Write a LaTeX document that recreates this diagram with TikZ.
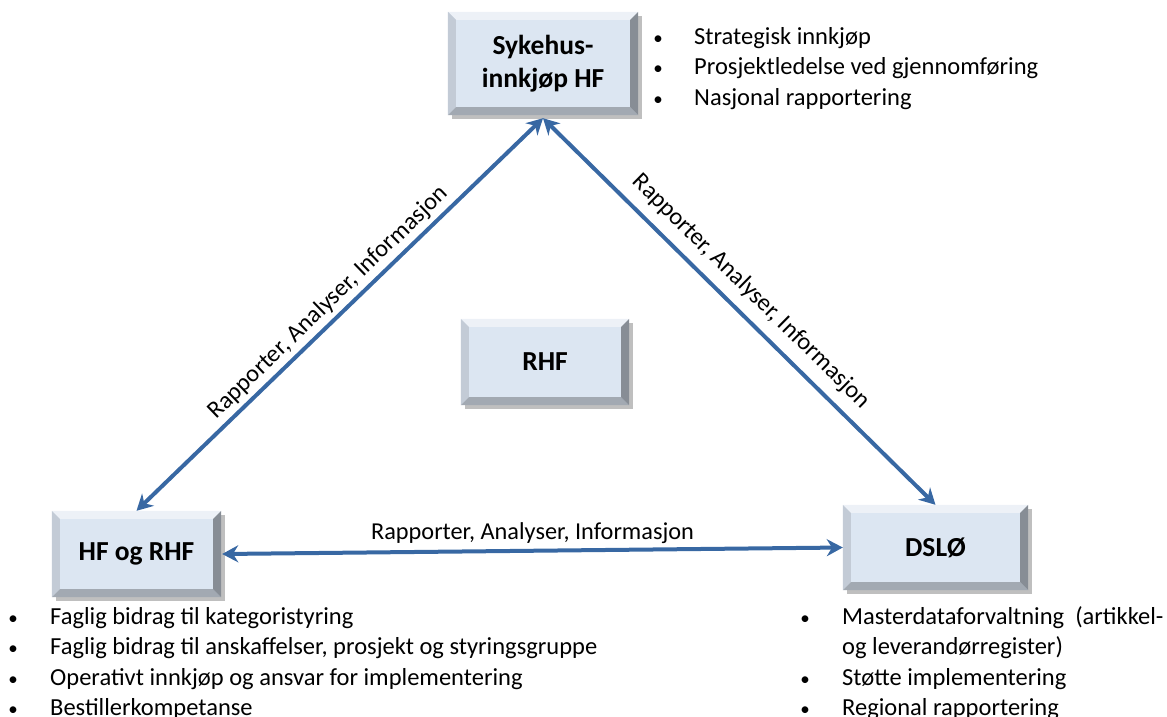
\documentclass[tikz,border=0pt]{standalone}
\usepackage{fontspec}
\setmainfont{Carlito}
\usetikzlibrary{arrows.meta,shadows,calc}
\definecolor{face}{HTML}{DCE6F2}
\definecolor{bevT}{HTML}{EDF1F7}
\definecolor{bevL}{HTML}{C3CBD6}
\definecolor{bevB}{HTML}{A2A9B2}
\definecolor{bevR}{HTML}{878D95}
\definecolor{arrowblue}{HTML}{3868A3}
\newcommand\boxfont{\fontsize{27.5}{33}\selectfont\bfseries}
\newcommand\listfont{\fontsize{24.5}{30}\selectfont}
\newcommand\bulfont{\fontsize{19}{30}\selectfont}
\newcommand\lblfont{\fontsize{24.3}{28}\selectfont}
\def\bw{8pt}
\newcommand\bevelbox[1]{%
  \fill[bevT] (#1.north west) -- (#1.north east) -- ([xshift=-\bw,yshift=-\bw]#1.north east) -- ([xshift=\bw,yshift=-\bw]#1.north west) -- cycle;
  \fill[bevL] (#1.north west) -- ([xshift=\bw,yshift=-\bw]#1.north west) -- ([xshift=\bw,yshift=\bw]#1.south west) -- (#1.south west) -- cycle;
  \fill[bevB] (#1.south west) -- ([xshift=\bw,yshift=\bw]#1.south west) -- ([xshift=-\bw,yshift=\bw]#1.south east) -- (#1.south east) -- cycle;
  \fill[bevR] (#1.south east) -- ([xshift=-\bw,yshift=\bw]#1.south east) -- ([xshift=-\bw,yshift=-\bw]#1.north east) -- (#1.north east) -- cycle;
}
\tikzset{
  box/.style={fill=face, inner sep=0pt, align=center, font=\boxfont,
    drop shadow={shadow xshift=4pt, shadow yshift=-4pt, opacity=0.25, fill=black}},
  arr/.style={draw=arrowblue, line width=4pt, {Stealth[length=16pt,width=17pt]}-{Stealth[length=16pt,width=17pt]}},
  lbl/.style={font=\lblfont, text=black, inner sep=4pt},
  item/.style={anchor=base west, font=\listfont, inner sep=0pt},
  bul/.style={anchor=base, font=\bulfont, inner sep=0pt},
}
\begin{document}
\begin{tikzpicture}[x=1pt,y=-1pt]
\useasboundingbox (0,0) rectangle (1167,716);
% boxes
\node[box, minimum width=190pt, minimum height=103pt] (syk) at (543,63.5) {Sykehus-\\innkjøp HF};
\node[box, minimum width=169pt, minimum height=86pt] (hf) at (136.5,554) {HF og RHF};
\node[box, minimum width=185pt, minimum height=85pt] (dsl) at (935.5,547.5) {DSLØ};
\node[box, minimum width=168pt, minimum height=86pt] (rhf) at (545,362) {RHF};
\foreach \n in {syk,hf,dsl,rhf}{\bevelbox{\n}}
% arrows
\draw[arr] ([yshift=-3pt]syk.south) -- node[lbl, sloped, above, pos=0.5] (l1) {Rapporter, Analyser, Informasjon} (hf.north);
\draw[arr] ([yshift=-3pt]syk.south) -- node[lbl, sloped, above=6pt, pos=0.49] (l2) {Rapporter, Analyser, Informasjon} (dsl.north);
\draw[arr] ([xshift=1pt]hf.east) -- node[lbl, above, pos=0.5, yshift=1pt] (l3) {Rapporter, Analyser, Informasjon} (dsl.west);
% top list
\node[bul] (b1) at (658,44) {•};
\node[item] (t1) at (694,44) {Strategisk innkjøp};
\node[bul] (b2) at (658,74.5) {•};
\node[item] (t2) at (694,74.5) {Prosjektledelse ved gjennomføring};
\node[bul] (b3) at (658,105) {•};
\node[item] (t3) at (694,105) {Nasjonal rapportering};
% bottom left list
\node[bul] (c1) at (13,624) {•};
\node[item] (u1) at (50,624) {Faglig bidrag til kategoristyring};
\node[bul] (c2) at (13,654.5) {•};
\node[item] (u2) at (50,654.5) {Faglig bidrag til anskaffelser, prosjekt og styringsgruppe};
\node[bul] (c3) at (13,685) {•};
\node[item] (u3) at (50,685) {Operativt innkjøp og ansvar for implementering};
\node[bul] (c4) at (13,715.5) {•};
\node[item] (u4) at (50,715.5) {Bestillerkompetanse};
% bottom right list
\node[bul] (d1) at (805,624) {•};
\node[item] (v1) at (842,624) {Masterdataforvaltning\ \ (artikkel-};
\node[item] (v2) at (842,654.5) {og leverandørregister)};
\node[bul] (d3) at (805,685) {•};
\node[item] (v3) at (842,685) {Støtte implementering};
\node[bul] (d4) at (805,715.5) {•};
\node[item] (v4) at (842,715.5) {Regional rapportering};
\end{tikzpicture}
\end{document}
